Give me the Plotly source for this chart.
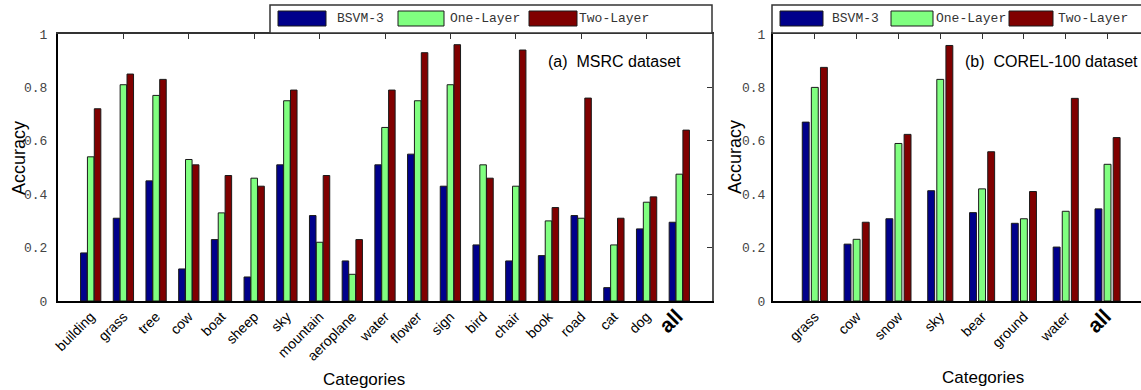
import plotly.graph_objects as go

W, H = 1141, 390

# ---------------- data ----------------
msrc_categories = ["building", "grass", "tree", "cow", "boat", "sheep", "sky", "mountain",
                   "aeroplane", "water", "flower", "sign", "bird", "chair", "book", "road",
                   "cat", "dog", "all"]
msrc_bsvm = [0.18, 0.31, 0.45, 0.12, 0.23, 0.09, 0.51, 0.32, 0.15, 0.51, 0.55, 0.43, 0.21,
             0.15, 0.17, 0.32, 0.05, 0.27, 0.295]
msrc_one = [0.54, 0.81, 0.77, 0.53, 0.33, 0.46, 0.75, 0.22, 0.10, 0.65, 0.75, 0.81, 0.51,
            0.43, 0.30, 0.31, 0.21, 0.37, 0.475]
msrc_two = [0.72, 0.85, 0.83, 0.51, 0.47, 0.43, 0.79, 0.47, 0.23, 0.79, 0.93, 0.96, 0.46,
            0.94, 0.35, 0.76, 0.31, 0.39, 0.64]

corel_categories = ["grass", "cow", "snow", "sky", "bear", "ground", "water", "all"]
corel_bsvm = [0.67, 0.213, 0.308, 0.413, 0.331, 0.291, 0.202, 0.345]
corel_one = [0.80, 0.231, 0.59, 0.83, 0.42, 0.308, 0.336, 0.512]
corel_two = [0.875, 0.295, 0.624, 0.957, 0.559, 0.41, 0.759, 0.612]

series_names = ["BSVM-3", "One-Layer", "Two-Layer"]
colors = ["#00008B", "#80FF80", "#800000"]
y_tick_vals = [0, 0.2, 0.4, 0.6, 0.8, 1]
y_tick_text = ["0", "0.2", "0.4", "0.6", "0.8", "1"]
panel_titles = ["(a)\u00a0 MSRC dataset", "(b)\u00a0 COREL-100 dataset"]
axis_title_y = "Accuracy"
axis_title_x = "Categories"


def px(x):
    return x / W


def py(y):
    return 1 - y / H


def ticktext(cats):
    return [("<b><span style='font-size:21px'>%s</span></b>" % c) if c == "all" else c for c in cats]


fig = go.Figure()

panels = [
    dict(cats=msrc_categories, vals=[msrc_bsvm, msrc_one, msrc_two], xa="x", ya="y",
         width=0.2, offsets=[-0.31, -0.1, 0.11]),
    dict(cats=corel_categories, vals=[corel_bsvm, corel_one, corel_two], xa="x2", ya="y2",
         width=0.165, offsets=[-0.30, -0.083, 0.135]),
]

for p in panels:
    pos = list(range(1, len(p["cats"]) + 1))
    for name, col, vals, off in zip(series_names, colors, p["vals"], p["offsets"]):
        fig.add_trace(go.Bar(x=pos, y=vals, name=name, xaxis=p["xa"], yaxis=p["ya"],
                             width=p["width"], offset=off,
                             marker=dict(color=col, line=dict(color="#1a1a1a", width=1)),
                             showlegend=False))

# invisible traces to create overlay (mirror) axes
fig.add_trace(go.Scatter(x=[], y=[], xaxis="x3", yaxis="y3", showlegend=False, hoverinfo="skip"))
fig.add_trace(go.Scatter(x=[], y=[], xaxis="x4", yaxis="y4", showlegend=False, hoverinfo="skip"))

ydom = [1 - 301 / H, 1 - 34 / H]
left_dom = [px(58), px(712)]
right_dom = [px(773), 1.0]
left_range = [0, 20]
right_range = [0, 8.8]

xbase = dict(ticks="", showline=True, linecolor="black", linewidth=2, showgrid=False,
             zeroline=False, tickangle=-45, automargin=False,
             tickfont=dict(family="Arial", size=14, color="black"))
ybase = dict(range=[0, 1], tickvals=y_tick_vals, ticktext=y_tick_text, ticks="", showline=True,
             linecolor="black", linewidth=2, showgrid=False, zeroline=False, automargin=False,
             tickfont=dict(family="Liberation Mono", size=13, color="#444"))
mirror_common = dict(showticklabels=False, showline=True, linewidth=2, showgrid=False,
                     zeroline=False, automargin=False, ticks="inside", ticklen=5,
                     tickcolor="#333")

fig.update_layout(
    width=W, height=H, margin=dict(l=0, r=0, t=0, b=0, pad=0, autoexpand=False),
    paper_bgcolor="white", plot_bgcolor="white", barmode="overlay", showlegend=False,
    xaxis=dict(domain=left_dom, range=left_range, anchor="y",
               tickvals=list(range(1, len(msrc_categories) + 1)),
               ticktext=ticktext(msrc_categories), **xbase),
    yaxis=dict(domain=ydom, anchor="x", ticklabelstandoff=6, **ybase),
    xaxis2=dict(domain=right_dom, range=right_range, anchor="y2",
                tickvals=list(range(1, len(corel_categories) + 1)),
                ticktext=ticktext(corel_categories), **xbase),
    yaxis2=dict(domain=ydom, anchor="x2", ticklabelstandoff=3, **ybase),
    xaxis3=dict(overlaying="x", side="top", anchor="y3", range=left_range,
                tickvals=list(range(2, len(msrc_categories), 2)), linecolor="#333",
                **mirror_common),
    yaxis3=dict(overlaying="y", side="right", anchor="x3", range=[0, 1],
                tickvals=y_tick_vals[1:-1], linecolor="#555", **mirror_common),
    xaxis4=dict(overlaying="x2", side="top", anchor="y4", range=right_range,
                tickvals=list(range(1, len(corel_categories) + 1)), linecolor="#333",
                **mirror_common),
    yaxis4=dict(overlaying="y2", side="right", anchor="x4", range=[0, 1], visible=False,
                automargin=False),
)

annotations = []
shapes = []

# axis titles and panel labels
for xc, yc in [(19, 158), (735, 157)]:
    annotations.append(dict(x=px(xc), y=py(yc), xref="paper", yref="paper", text=axis_title_y,
                            textangle=-90, showarrow=False, xanchor="center", yanchor="middle",
                            font=dict(family="Arial", size=18, color="black")))
for xc, yc in [(364, 379), (983, 377)]:
    annotations.append(dict(x=px(xc), y=py(yc), xref="paper", yref="paper", text=axis_title_x,
                            showarrow=False, xanchor="center", yanchor="middle",
                            font=dict(family="Arial", size=17, color="black")))
for t, xl in zip(panel_titles, [546, 963]):
    annotations.append(dict(x=px(xl), y=py(62), xref="paper", yref="paper", text=t,
                            showarrow=False, xanchor="left", yanchor="middle",
                            font=dict(family="Arial", size=16, color="black")))

# hand-drawn legends (large swatches like the original)
legends = [
    dict(box=(270, 712), sw=[(278, 326), (398, 444), (529, 577)], tx=[361, 485, 614]),
    dict(box=(772, 1150), sw=[(780, 823), (891, 933), (1009, 1053)], tx=[855, 971, 1093]),
]
for lg in legends:
    shapes.append(dict(type="rect", xref="paper", yref="paper", x0=px(lg["box"][0]),
                       x1=px(lg["box"][1]), y0=py(33), y1=py(5), fillcolor="white",
                       line=dict(color="#333", width=1.5)))
    for (a, b), tx, col, name in zip(lg["sw"], lg["tx"], colors, series_names):
        shapes.append(dict(type="rect", xref="paper", yref="paper", x0=px(a), x1=px(b),
                           y0=py(26), y1=py(11), fillcolor=col,
                           line=dict(color="#1a1a1a", width=1)))
        annotations.append(dict(x=px(tx), y=py(18.5), xref="paper", yref="paper", text=name,
                                showarrow=False, xanchor="center", yanchor="middle",
                                font=dict(family="Liberation Mono", size=13, color="#333")))

fig.update_layout(annotations=annotations, shapes=shapes)
fig.write_html("out.html", config={"displayModeBar": False},
               post_script="document.body.style.margin='0';document.body.style.overflow='hidden';")
